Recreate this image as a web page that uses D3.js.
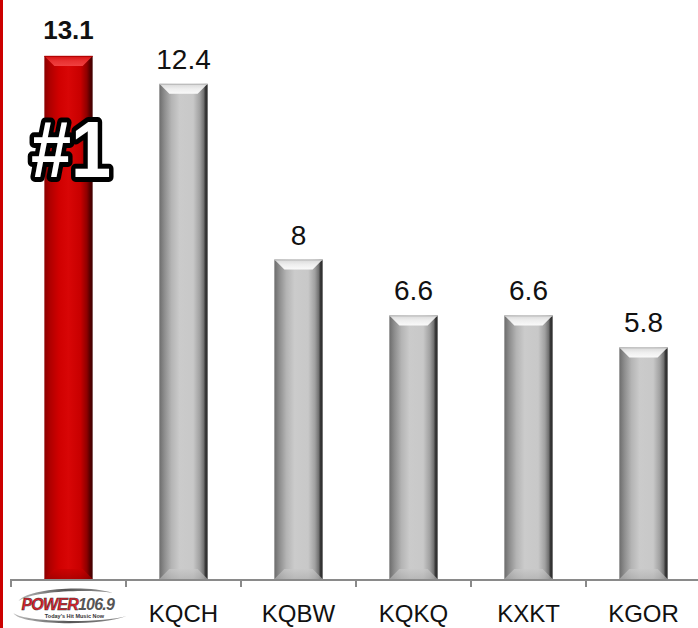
<!DOCTYPE html>
<html>
<head>
<meta charset="utf-8">
<script src="https://cdn.jsdelivr.net/npm/d3@7"></script>
<style>
  body { margin: 0; background: #fff; }
  svg { display: block; font-family: "Liberation Sans", Arial, sans-serif; }
</style>
</head>
<body>
<div id="chart"></div>
<script>
// Data
const stations = ['POWER 106.9', 'KQCH', 'KQBW', 'KQKQ', 'KXKT', 'KGOR'];
const ratings = [13.1, 12.4, 8, 6.6, 6.6, 5.8];
const valueLabels = ['13.1', '12.4', '8', '6.6', '6.6', '5.8'];

const W = 698, H = 628;
const baseY = 579;

const svg = d3.select('#chart').append('svg')
  .attr('width', W)
  .attr('height', H);

const defs = svg.append('defs');

// gradients for the bevelled bars
function hGrad(id, stops) {
  const g = defs.append('linearGradient').attr('id', id)
    .attr('x1', 0).attr('x2', 1).attr('y1', 0).attr('y2', 0);
  stops.forEach(s => g.append('stop').attr('offset', s[0]).attr('stop-color', s[1]));
}
function vGrad(id, stops) {
  const g = defs.append('linearGradient').attr('id', id)
    .attr('x1', 0).attr('x2', 0).attr('y1', 0).attr('y2', 1);
  stops.forEach(s => g.append('stop').attr('offset', s[0]).attr('stop-color', s[1]));
}
hGrad('greyBody', [[0, '#6c6c6c'], [0.1, '#8c8c8c'], [0.25, '#b4b4b4'], [0.42, '#cbcbcb'],
  [0.7, '#c8c8c8'], [0.84, '#a0a0a0'], [0.92, '#707070'], [0.95, '#3a3a3a'], [1, '#2a2a2a']]);
hGrad('redBody', [[0, '#8c0000'], [0.12, '#b00000'], [0.3, '#d00000'], [0.5, '#d80606'],
  [0.75, '#c80000'], [0.88, '#8e0000'], [0.94, '#5a0000'], [1, '#400000']]);
vGrad('greyTop', [[0, '#d8d8d8'], [0.5, '#eeeeee'], [1, '#fafafa']]);
vGrad('redTop', [[0, '#d41010'], [0.5, '#e83030'], [1, '#f04040']]);
vGrad('greyBottom', [[0, '#c8c8c8'], [1, '#b0b0b0']]);
vGrad('redBottom', [[0, '#c80000'], [1, '#a00000']]);
hGrad('swoosh', [[0, '#bbbbbb'], [0.5, '#555555'], [1, '#999999']]);

// Scales
const x = d3.scaleBand()
  .domain(stations)
  .range([11, 701])
  .paddingInner(0.58)
  .paddingOuter(0.29);

const y = d3.scaleLinear()
  .domain([0, 14.5])
  .range([baseY, 0]);

const step = x.step();
const bw = x.bandwidth();
const bev = 10;

// Left red rule
svg.append('rect')
  .attr('x', 0).attr('y', 0)
  .attr('width', 3).attr('height', H)
  .attr('fill', '#cc0000');

// Bars
const bars = svg.selectAll('g.bar')
  .data(stations)
  .enter()
  .append('g')
  .attr('class', 'bar');

bars.each(function (d, i) {
  const g = d3.select(this);
  const x0 = x(d), x1 = x(d) + bw;
  const y0 = y(ratings[i]), y1 = y(0);
  const red = i === 0;

  g.append('rect')
    .attr('x', x0).attr('y', y0)
    .attr('width', bw).attr('height', y1 - y0)
    .attr('fill', red ? 'url(#redBody)' : 'url(#greyBody)');

  // top bevel
  g.append('polygon')
    .attr('points', [[x0, y0], [x1, y0], [x1 - bev, y0 + bev], [x0 + bev, y0 + bev]].join(' '))
    .attr('fill', red ? 'url(#redTop)' : 'url(#greyTop)');
  g.append('line')
    .attr('x1', x0).attr('x2', x1).attr('y1', y0 + 0.5).attr('y2', y0 + 0.5)
    .attr('stroke', red ? '#b00000' : '#b8b8b8').attr('stroke-width', 1);

  // bottom bevel
  g.append('polygon')
    .attr('points', [[x0 + bev, y1 - bev], [x1 - bev, y1 - bev], [x1, y1], [x0, y1]].join(' '))
    .attr('fill', red ? 'url(#redBottom)' : 'url(#greyBottom)')
    .attr('opacity', 0.7);
});

// Value labels
svg.selectAll('text.value')
  .data(stations)
  .enter()
  .append('text')
  .attr('class', 'value')
  .attr('x', d => x(d) + bw / 2)
  .attr('y', (d, i) => y(ratings[i]) - (i === 0 ? 17 : 15))
  .attr('text-anchor', 'middle')
  .attr('font-size', (d, i) => i === 0 ? 26 : 28)
  .attr('font-weight', (d, i) => i === 0 ? 'bold' : 'normal')
  .attr('fill', '#111')
  .text((d, i) => valueLabels[i]);

// Axis
svg.append('line')
  .attr('x1', 11).attr('x2', W)
  .attr('y1', baseY + 1).attr('y2', baseY + 1)
  .attr('stroke', '#8a8a8a').attr('stroke-width', 2);

const tickXs = stations.map(d => x(d) + bw / 2 - step / 2).concat([x(stations[5]) + bw / 2 + step / 2]);
svg.selectAll('line.tick')
  .data(tickXs)
  .enter()
  .append('line')
  .attr('class', 'tick')
  .attr('x1', d => d).attr('x2', d => d)
  .attr('y1', baseY).attr('y2', baseY + 8)
  .attr('stroke', '#8a8a8a').attr('stroke-width', 2);

// Category labels (first one is the station logo)
svg.selectAll('text.cat')
  .data(stations.slice(1))
  .enter()
  .append('text')
  .attr('class', 'cat')
  .attr('x', d => x(d) + bw / 2)
  .attr('y', 622)
  .attr('text-anchor', 'middle')
  .attr('font-size', 24)
  .attr('fill', '#111')
  .text(d => d);

// Logo
const lx = x(stations[0]) + bw / 2;
const logo = svg.append('g').attr('transform', `translate(${lx},605)`);
logo.append('path')
  .attr('d', 'M-50,-4 C-40,-17 20,-20 44,-12 C20,-16 -35,-14 -50,-4 Z')
  .attr('fill', 'url(#swoosh)');
logo.append('path')
  .attr('d', 'M-55,8 C-50,20 30,22 58,11 C30,19 -45,17 -55,8 Z')
  .attr('fill', 'url(#swoosh)');
const logoText = logo.append('text')
  .attr('x', -47).attr('y', 5)
  .attr('font-size', 16)
  .attr('font-weight', 'bold')
  .attr('font-style', 'italic')
  .attr('letter-spacing', -0.8);
logoText.append('tspan')
  .attr('fill', '#e0202a')
  .attr('stroke', '#333').attr('stroke-width', 0.5)
  .text('POWER');
logoText.append('tspan')
  .attr('fill', '#555')
  .text('106.9');
logo.append('text')
  .attr('x', 6).attr('y', 13)
  .attr('text-anchor', 'middle')
  .attr('font-size', 5.5)
  .attr('font-weight', 'bold')
  .attr('fill', '#333')
  .text("Today's Hit Music Now");

// "#1" badge
svg.append('text')
  .attr('transform', 'translate(71,177) scale(0.9,1)')
  .attr('text-anchor', 'middle')
  .attr('font-size', 80)
  .attr('font-weight', 'bold')
  .attr('fill', '#fff')
  .attr('stroke', '#000')
  .attr('stroke-width', 10)
  .attr('stroke-linejoin', 'round')
  .attr('paint-order', 'stroke')
  .text('#1');
</script>
</body>
</html>
